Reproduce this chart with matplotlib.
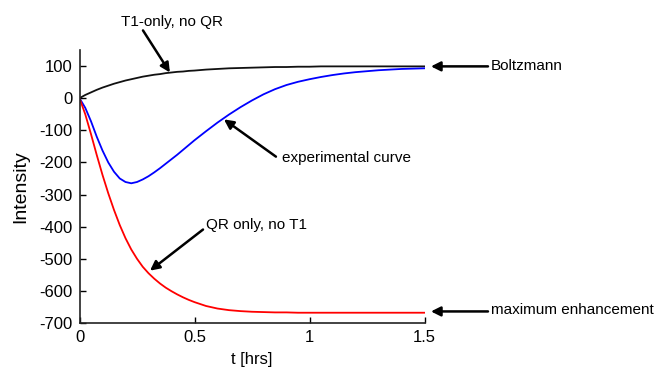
import matplotlib.pyplot as plt

# time points [hrs]
t = [0, 0.025, 0.05, 0.075, 0.1, 0.125, 0.15, 0.175, 0.2, 0.225, 0.25, 0.275,
     0.3, 0.325, 0.35, 0.375, 0.4, 0.425, 0.45, 0.475, 0.5, 0.55, 0.6, 0.65,
     0.7, 0.75, 0.8, 0.85, 0.9, 0.95, 1.0, 1.05, 1.1, 1.15, 1.2, 1.25, 1.3,
     1.35, 1.4, 1.45, 1.5]

t1_only = [0, 10, 18, 26, 33, 39, 45, 50, 55, 59, 63, 67,
           70, 73, 75, 78, 80, 82, 83, 85, 86, 89, 91, 93,
           94, 95, 96, 97, 97, 98, 98, 99, 99, 99, 99, 99, 99,
           99, 99, 99, 99]

experimental = [0, -30, -72, -120, -163, -200, -229, -250, -261, -265, -261, -253,
                -243, -231, -218, -204, -190, -176, -161, -146, -131, -103, -76, -51,
                -28, -7, 12, 28, 41, 51, 59, 66, 72, 77, 81, 84, 87,
                89, 91, 92, 93]

qr_only = [0, -50, -112, -177, -239, -296, -348, -395, -436, -471, -500, -525,
           -545, -562, -577, -590, -601, -611, -620, -628, -635, -647, -655, -660,
           -663, -665, -666, -667, -667, -668, -668, -668, -668, -668, -668, -668, -668,
           -668, -668, -668, -668]

xticks = [0, 0.5, 1, 1.5]
xticklabels = ['0', '0.5', '1', '1.5']
yticks = [100, 0, -100, -200, -300, -400, -500, -600, -700]

plt.rcParams['font.family'] = ['Liberation Sans', 'DejaVu Sans']
plt.rcParams['axes.unicode_minus'] = False

fig = plt.figure(figsize=(6.58, 3.69), dpi=100)
ax = fig.add_axes([79.5 / 658, 46 / 369, 345 / 658, 273 / 369])

ax.plot(t, t1_only, color='#111111', lw=1.3)
ax.plot(t, experimental, color='#0000ff', lw=1.3)
ax.plot(t, qr_only, color='#ff0000', lw=1.3)

ax.set_xlim(0, 1.5)
ax.set_ylim(-700, 150)
ax.set_xticks(xticks)
ax.set_xticklabels(xticklabels)
ax.set_yticks(yticks)
ax.tick_params(direction='in', length=4, width=1, labelsize=12, pad=5)
ax.spines['top'].set_visible(False)
ax.spines['right'].set_visible(False)
for s in ['left', 'bottom']:
    ax.spines[s].set_linewidth(1.2)
    ax.spines[s].set_color('#222222')

ax.set_xlabel('t [hrs]', fontsize=12, labelpad=5)
ax.set_ylabel('Intensity', fontsize=14, labelpad=7)

arrow = dict(arrowstyle='-|>', color='black', lw=1.8, mutation_scale=14,
             shrinkA=0, shrinkB=0)


def note(text, tip, tail, pos, ha='left'):
    ax.annotate('', xy=tip, xytext=tail, arrowprops=arrow, annotation_clip=False)
    ax.text(pos[0], pos[1], text, ha=ha, va='center', fontsize=11, clip_on=False)


note('T1-only, no QR', (0.393, 80), (0.276, 211), (0.402, 236), ha='center')
note('Boltzmann', (1.528, 99), (1.776, 99), (1.79, 99))
note('experimental curve', (0.628, -66), (0.854, -182), (0.88, -185))
note('QR only, no T1', (0.3065, -537), (0.537, -409), (0.55, -394))
note('maximum enhancement', (1.528, -664), (1.776, -664), (1.79, -661))

fig.savefig('out.png', dpi=100)
